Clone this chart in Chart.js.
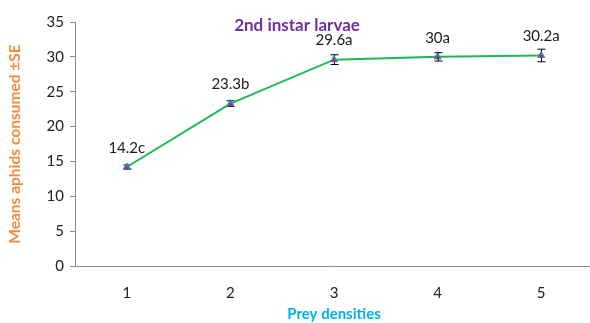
<!DOCTYPE html>
<html>
<head>
<meta charset="utf-8">
<script src="https://cdn.jsdelivr.net/npm/chart.js@4.4.1/dist/chart.umd.min.js"></script>
<style>
  html, body { margin: 0; padding: 0; background: #fff; }
  #wrap { width: 590px; height: 323px; overflow: hidden; }
</style>
</head>
<body>
<div id="wrap"><canvas id="chart" width="598" height="323"></canvas></div>
<script>
// prey densities and mean aphids consumed by 2nd instar larvae
const densities = ["1", "2", "3", "4", "5"];
const means = [14.2, 23.3, 29.6, 30, 30.2];
const se = [0.3, 0.4, 0.7, 0.6, 0.9];
const letters = ["c", "b", "a", "a", "a"];
const yTicks = [0, 5, 10, 15, 20, 25, 30, 35];

const FONT = "Lato, 'Noto Sans', sans-serif";

// error bars, value labels and the panel title
const extrasPlugin = {
  id: "extras",
  beforeDatasetsDraw(chart) {
    const { ctx } = chart;
    const ys = chart.scales.y;
    const meta = chart.getDatasetMeta(0);
    ctx.save();
    ctx.strokeStyle = "#000";
    ctx.lineWidth = 1;
    meta.data.forEach((pt, i) => {
      const x = Math.round(pt.x) + 0.5;
      const top = ys.getPixelForValue(means[i] + se[i]);
      const bot = ys.getPixelForValue(means[i] - se[i]);
      ctx.beginPath();
      ctx.moveTo(x, top); ctx.lineTo(x, bot);
      ctx.moveTo(x - 4, top); ctx.lineTo(x + 4, top);
      ctx.moveTo(x - 4, bot); ctx.lineTo(x + 4, bot);
      ctx.stroke();
    });
    ctx.restore();
  },
  afterDatasetsDraw(chart) {
    const { ctx, chartArea } = chart;
    const meta = chart.getDatasetMeta(0);
    ctx.save();
    // red centre dot on each marker
    ctx.fillStyle = "#e0202a";
    meta.data.forEach(pt => {
      ctx.beginPath();
      ctx.arc(pt.x, pt.y + 1, 1.6, 0, Math.PI * 2);
      ctx.fill();
    });
    ctx.fillStyle = "#1a1a1a";
    ctx.font = "15px " + FONT;
    ctx.textAlign = "center";
    ctx.textBaseline = "middle";
    meta.data.forEach((pt, i) => {
      ctx.fillText(means[i] + letters[i], pt.x, pt.y - 19);
    });
    ctx.fillStyle = "#7030a0";
    ctx.font = "bold 17px " + FONT;
    ctx.fillText("2nd instar larvae", 297, chartArea.top + 4);
    ctx.restore();
  }
};

new Chart(document.getElementById("chart"), {
  type: "line",
  data: {
    labels: densities,
    datasets: [{
      data: means,
      borderColor: "#1db954",
      borderWidth: 2,
      tension: 0,
      pointStyle: "triangle",
      pointRadius: 4,
      pointBackgroundColor: "#2f7fd0",
      pointBorderColor: "#2f7fd0",
      pointBorderWidth: 1
    }]
  },
  options: {
    responsive: false,
    animation: false,
    layout: { padding: { top: 22, right: 0, left: 0, bottom: 0 } },
    plugins: {
      legend: { display: false },
      tooltip: { enabled: false }
    },
    scales: {
      x: {
        offset: true,
        grid: { display: false },
        border: { display: true, color: "#8c8c8c", width: 1 },
        ticks: { color: "#222", font: { family: FONT, size: 15 }, padding: 10 },
        title: {
          display: true,
          text: "Prey densities",
          color: "#00b0f0",
          font: { family: FONT, size: 15, weight: "bold" },
          padding: { top: 4, bottom: 0 }
        },
        afterFit(axis) { axis.height = 57; }
      },
      y: {
        min: 0,
        max: 35,
        afterBuildTicks(axis) { axis.ticks = yTicks.map(v => ({ value: v })); },
        grid: { drawOnChartArea: false, drawTicks: true, tickLength: 5, color: "#8c8c8c" },
        border: { display: true, color: "#8c8c8c", width: 1 },
        ticks: { color: "#222", font: { family: FONT, size: 15 }, padding: 6 },
        title: {
          display: true,
          text: "Means aphids consumed ±SE",
          color: "#f58a3c",
          font: { family: FONT, size: 15.5, weight: "bold" },
          padding: { top: 6, bottom: 4 }
        },
        afterFit(axis) { axis.width = 75; }
      }
    }
  },
  plugins: [extrasPlugin]
});
</script>
</body>
</html>
